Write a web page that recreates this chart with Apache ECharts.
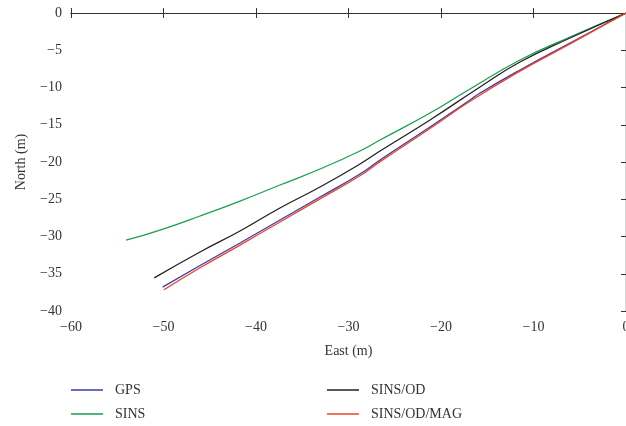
<!DOCTYPE html>
<html>
<head>
<meta charset="utf-8">
<script src="https://cdn.jsdelivr.net/npm/echarts@6/dist/echarts.min.js"></script>
<style>
  html, body { margin: 0; padding: 0; background: #fff; }
  #main { width: 626px; height: 426px; }
</style>
</head>
<body>
<div id="main"></div>
<script>
// 轨迹数据 (East, North)，单位 m
var gpsEast = [-50.1, -46.05, -41.73, -37.41, -33.08, -28.76, -26.59, -21.19, -16.86, -15.78, -11.46, -6.05, 0];
var gpsNorth = [-36.8, -33.9, -30.87, -27.79, -24.7, -21.61, -19.73, -15.3, -11.68, -10.74, -7.65, -4.03, 0];

var sinsEast = [-54.05, -50.38, -46.05, -41.73, -37.41, -33.08, -28.76, -26.59, -21.19, -16.86, -11.46, -6.05, 0];
var sinsNorth = [-30.5, -29.13, -27.25, -25.24, -23.09, -20.94, -18.52, -17.05, -13.42, -10.2, -6.31, -3.22, 0];

var odEast = [-51.0, -46.05, -41.73, -37.41, -33.08, -28.76, -26.59, -21.19, -15.78, -11.46, -6.05, 0];
var odNorth = [-35.55, -32.08, -29.26, -26.17, -23.36, -20.27, -18.52, -14.36, -9.93, -6.58, -3.36, 0];

var magEast = [-49.95, -46.05, -41.73, -37.41, -33.08, -28.76, -26.59, -21.19, -16.86, -11.46, -6.05, 0];
var magNorth = [-37.15, -34.2, -31.15, -28.05, -24.95, -21.85, -19.95, -15.5, -11.85, -7.8, -4.15, 0];

var seriesNames = ['GPS', 'SINS', 'SINS/OD', 'SINS/OD/MAG'];
var seriesColors = ['#3b3ba6', '#17a04e', '#222222', '#ee4227'];

var xTicks = { min: -60, max: 0, interval: 10 };
var yTicks = { min: -40, max: 0, interval: 5 };

function zip(xs, ys) {
  return xs.map(function (x, i) { return [x, ys[i]]; });
}

// 负号用 U+2212
function minusFmt(v) {
  return v < 0 ? '\u2212' + (-v) : String(v);
}

var serif = 'Liberation Serif';
var tracks = [zip(gpsEast, gpsNorth), zip(sinsEast, sinsNorth), zip(odEast, odNorth), zip(magEast, magNorth)];

var myChart = echarts.init(document.getElementById('main'));

var axisLine = { show: true, lineStyle: { color: '#333', width: 1.2 } };
var axisTick = { show: true, inside: true, length: 5, lineStyle: { color: '#333', width: 1 } };
var textStyle = { fontFamily: serif, fontSize: 14, color: '#333' };

// 图例两列，每项单独定位
var legendPos = [[71, 383], [71, 407], [327, 383], [327, 407]];

var option = {
  animation: false,
  backgroundColor: '#fff',
  grid: { left: 71, right: 0, top: 13, bottom: 115, containLabel: false, outerBoundsMode: 'none' },
  legend: seriesNames.map(function (name, i) {
    return {
      data: [name],
      left: legendPos[i][0], top: legendPos[i][1],
      padding: 0,
      icon: 'rect', itemWidth: 32, itemHeight: 1.5,
      textStyle: { fontFamily: serif, fontSize: 14, color: '#333', padding: [0, 0, 0, 7] }
    };
  }),
  xAxis: [{
    type: 'value',
    min: xTicks.min, max: xTicks.max, interval: xTicks.interval,
    name: 'East (m)', nameLocation: 'middle', nameGap: 33,
    nameTextStyle: textStyle,
    axisLine: axisLine, axisTick: axisTick,
    axisLabel: { fontFamily: serif, fontSize: 14, color: '#333', margin: 9, formatter: minusFmt },
    splitLine: { show: false }
  }, {
    type: 'value', position: 'top',
    min: xTicks.min, max: xTicks.max, interval: xTicks.interval,
    axisLine: axisLine, axisTick: axisTick,
    axisLabel: { show: false }, splitLine: { show: false }
  }],
  yAxis: [{
    type: 'value',
    min: yTicks.min, max: yTicks.max, interval: yTicks.interval,
    name: 'North (m)', nameLocation: 'middle', nameGap: 43,
    nameTextStyle: textStyle,
    axisLine: axisLine, axisTick: axisTick,
    axisLabel: { fontFamily: serif, fontSize: 14, color: '#333', margin: 9, formatter: minusFmt },
    splitLine: { show: false }
  }, {
    type: 'value', position: 'right',
    min: yTicks.min, max: yTicks.max, interval: yTicks.interval,
    axisLine: axisLine, axisTick: axisTick,
    axisLabel: { show: false }, splitLine: { show: false }
  }],
  series: seriesNames.map(function (name, i) {
    return {
      name: name,
      type: 'line',
      data: tracks[i],
      smooth: 0.5,
      symbol: 'none',
      color: seriesColors[i],
      lineStyle: { width: 1.3, color: seriesColors[i] }
    };
  })
};

myChart.setOption(option);
</script>
</body>
</html>
